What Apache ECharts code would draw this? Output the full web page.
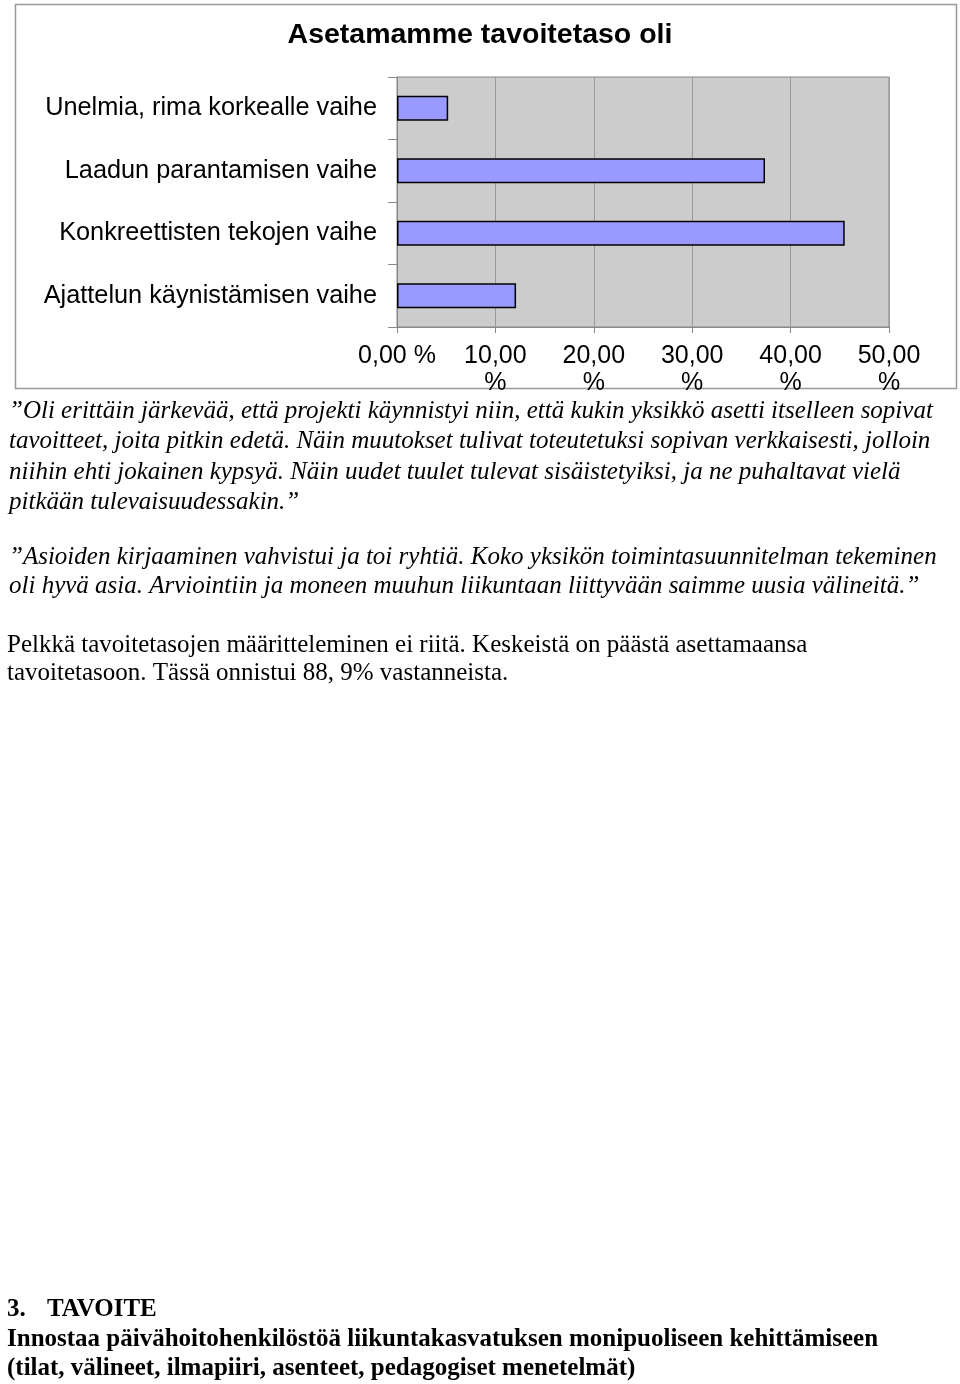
<!DOCTYPE html>
<html>
<head>
<meta charset="utf-8">
<script src="https://cdn.jsdelivr.net/npm/echarts@6/dist/echarts.min.js"></script>
<style>
html,body{margin:0;padding:0;background:#fff;}
#c{width:960px;height:1384px;}
</style>
</head>
<body>
<div id="c"></div>
<script>
const chartTitle = 'Asetamamme tavoitetaso oli';
const categories = ['Unelmia, rima korkealle vaihe', 'Laadun parantamisen vaihe', 'Konkreettisten tekojen vaihe', 'Ajattelun käynistämisen vaihe'];
const values = [5.2, 37.4, 45.5, 12.1];
const tickLabels = {0: '0,00 %', 10: '10,00\n%', 20: '20,00\n%', 30: '30,00\n%', 40: '40,00\n%', 50: '50,00\n%'};
const quote1 = [
  '\u201DOli erittäin järkevää, että projekti käynnistyi niin, että kukin yksikkö asetti itselleen sopivat',
  'tavoitteet, joita pitkin edetä. Näin muutokset tulivat toteutetuksi sopivan verkkaisesti, jolloin',
  'niihin ehti jokainen kypsyä. Näin uudet tuulet tulevat sisäistetyiksi, ja ne puhaltavat vielä',
  'pitkään tulevaisuudessakin.\u201D'
];
const quote2 = [
  '\u201DAsioiden kirjaaminen vahvistui ja toi ryhtiä. Koko yksikön toimintasuunnitelman tekeminen',
  'oli hyvä asia. Arviointiin ja moneen muuhun liikuntaan liittyvään saimme uusia välineitä.\u201D'
];
const para3 = [
  'Pelkkä tavoitetasojen määritteleminen ei riitä. Keskeistä on päästä asettamaansa',
  'tavoitetasoon. Tässä onnistui 88, 9% vastanneista.'
];
const headingNum = '3.';
const headingText = 'TAVOITE';
const heading2 = [
  'Innostaa päivähoitohenkilöstöä liikuntakasvatuksen monipuoliseen kehittämiseen',
  '(tilat, välineet, ilmapiiri, asenteet, pedagogiset menetelmät)'
];

const chart = echarts.init(document.getElementById('c'));
const serif = '"Liberation Serif", "Times New Roman", serif';
const sans = '"Liberation Sans", Arial, sans-serif';

const graphics = [];
graphics.push({type: 'rect', shape: {x: 15.5, y: 4.5, width: 941, height: 384}, style: {fill: 'none', stroke: '#999', lineWidth: 1.5}, z: -10});

function addLines(lines, x, yStart, step, font, color) {
  lines.forEach((t, i) => {
    graphics.push({type: 'text', x: x, y: yStart + i * step,
      style: {text: t, font: font, fill: color || '#000', textVerticalAlign: 'middle', textAlign: 'left'}});
  });
}
addLines(quote1, 9, 411, 30.5, 'italic 25px ' + serif);
addLines(quote2, 9, 557, 29.5, 'italic 25px ' + serif);
addLines(para3, 7, 645, 28.5, '25px ' + serif);
addLines([headingNum], 7, 1310, 0, 'bold 25px ' + serif);
addLines([headingText], 47, 1310, 0, 'bold 25px ' + serif);
addLines(heading2, 7, 1340, 28.5, 'bold 25px ' + serif);

chart.setOption({
  animation: false,
  backgroundColor: '#fff',
  title: {
    text: chartTitle, left: 'center', top: 16,
    textStyle: {fontFamily: sans, fontSize: 28.5, fontWeight: 'bold', color: '#000'}
  },
  grid: {left: 397, right: 71, top: 77, height: 250, containLabel: false,
    show: true, backgroundColor: '#cccccc', borderColor: '#888', borderWidth: 1},
  xAxis: {
    type: 'value', min: 0, max: 50, interval: 10,
    axisLine: {show: true, lineStyle: {color: '#888', width: 1}},
    axisTick: {show: true, length: 6, lineStyle: {color: '#888'}},
    splitLine: {show: true, lineStyle: {color: '#999', width: 1}},
    axisLabel: {
      margin: 16, fontFamily: sans, fontSize: 25, color: '#000', lineHeight: 27,
      formatter: v => tickLabels[v] !== undefined ? tickLabels[v] : ''
    }
  },
  yAxis: {
    type: 'category', data: categories, inverse: true,
    axisLine: {show: true, lineStyle: {color: '#888', width: 1}},
    axisTick: {show: true, length: 9, inside: false, lineStyle: {color: '#888'}},
    axisLabel: {margin: 20, fontFamily: sans, fontSize: 25.3, color: '#000'}
  },
  series: [{
    type: 'bar', data: values, barWidth: 25,
    itemStyle: {color: '#9999ff', borderColor: '#000', borderWidth: 1.5}
  }],
  graphic: graphics
});
</script>
</body>
</html>
